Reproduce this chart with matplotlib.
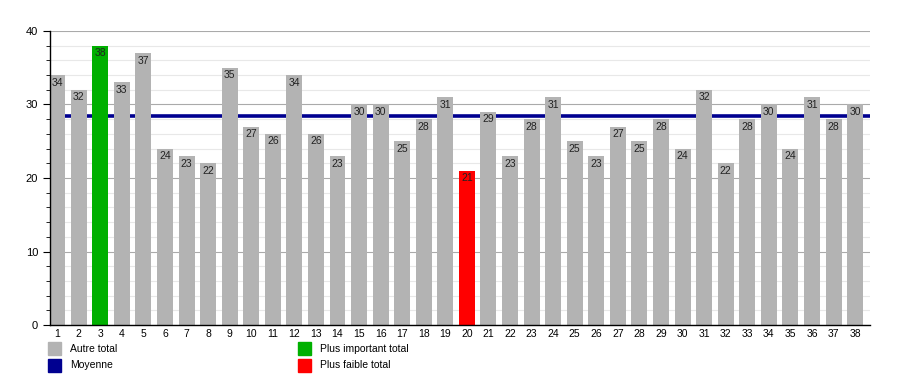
import numpy as np
from matplotlib import pyplot as plt
from matplotlib.patches import Rectangle

plt.rcParams['font.family'] = ['Liberation Sans', 'DejaVu Sans']

rounds = list(range(1, 39))
totals = [34, 32, 38, 33, 37, 24, 23, 22, 35, 27, 26, 34, 26, 23, 30, 30, 25, 28, 31,
          21, 29, 23, 28, 31, 25, 23, 27, 25, 28, 24, 32, 22, 28, 30, 24, 31, 28, 30]
moyenne = 28.45

gray = "#b3b3b3"
green = "#00b000"
red = "#ff0000"
navy = "#000090"

colors = []
for v in totals:
    if v == max(totals):
        colors.append(green)
    elif v == min(totals):
        colors.append(red)
    else:
        colors.append(gray)

fig = plt.figure(figsize=(9, 3.75), dpi=100)
ax = fig.add_axes([50/900, 1-325/375, 820/900, 294/375])

ax.set_yticks(np.arange(0, 41, 10))
ax.set_yticks(np.arange(0, 41, 2), minor=True)
ax.grid(axis='y', which='minor', color="#e8e8e8", lw=0.8)
ax.grid(axis='y', which='major', color="#aaaaaa", lw=0.8)
ax.set_axisbelow(True)

ax.axhline(moyenne, color=navy, lw=2.6, zorder=1.5)
ax.bar(rounds, totals, width=0.74, color=colors, zorder=2)

for x, v in zip(rounds, totals):
    ax.text(x, v - 0.35, str(v), ha='center', va='top', fontsize=7.5, color="#222222", zorder=4)

ax.set_xlim(0.67, 38.69)
ax.set_ylim(0, 40)
ax.set_xticks(rounds)
ax.tick_params(axis='x', length=0, labelsize=7.5, pad=3)
ax.tick_params(axis='y', which='major', length=5, labelsize=8, direction='out')
ax.tick_params(axis='y', which='minor', length=3, direction='out')
for s in ['top', 'right']:
    ax.spines[s].set_visible(False)
ax.spines['left'].set_linewidth(1.0)
ax.spines['bottom'].set_linewidth(1.0)

# legend drawn below the axes
legend_items = [(48, 342, gray, "Autre total"), (48, 359, navy, "Moyenne"),
                (298, 342, green, "Plus important total"), (298, 359, red, "Plus faible total")]
for px, py, c, label in legend_items:
    fig.patches.append(Rectangle((px/900, 1-(py+13)/375), 13/900, 13/375,
                                 transform=fig.transFigure, color=c))
    fig.text((px+22)/900, 1-(py+6.5)/375, label, fontsize=7.5, va='center', ha='left')

plt.savefig("out.png", dpi=100)
